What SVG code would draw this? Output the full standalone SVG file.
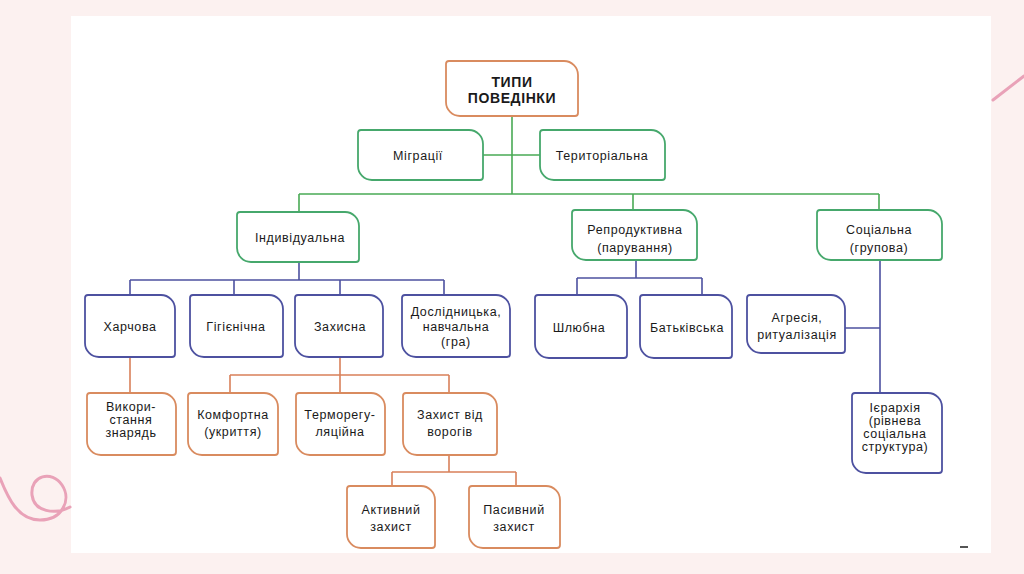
<svg xmlns="http://www.w3.org/2000/svg" width="1024" height="574" viewBox="0 0 1024 574">
<style>
.bg{fill:#fcf1f0}
.panel{fill:#ffffff}
.deco{fill:none;stroke:#e9a2b8;stroke-width:3;stroke-linecap:round}
.box{fill:#ffffff;stroke-width:1.8}
.o{stroke:#d98b5f}
.g{stroke:#46a86c}
.b{stroke:#4d51a0}
.lg{fill:none;stroke:#4aaa55;stroke-width:1.6}
.lb{fill:none;stroke:#4d51a0;stroke-width:1.6}
.lo{fill:none;stroke:#d9805a;stroke-width:1.6}
text{font-family:"Liberation Sans",Arial,sans-serif;font-size:12.5px;letter-spacing:0.6px;fill:#1a1a1a;text-anchor:middle}
.t{font-size:14px;font-weight:bold;letter-spacing:0.6px}
</style>
<rect class="bg" x="0" y="0" width="1024" height="574"/>
<rect class="panel" x="71" y="16" width="920" height="537"/>
<path class="deco" d="M0,478 C8,498 18,520 40,520 C62,520 72,500 62,485 C52,470 30,475 32,495 C34,512 55,515 70,507"/>
<path class="deco" d="M993,100 L1024,76"/>
<path d="M960,547 H968" stroke="#555" stroke-width="2"/>

<g id="connectors">
<path class="lg" d="M512,116 V194 M483,155 H540 M299,194 H879 M299,194 V212 M633,194 V210 M879,194 V210"/>
<path class="lb" d="M299,262 V280 M130,280 H444 M130,280 V295 M234,280 V295 M340,280 V295 M444,280 V295"/>
<path class="lb" d="M636,260 V278 M577,278 H702 M577,278 V295 M702,278 V295"/>
<path class="lb" d="M880,260 V393 M845,328 H880"/>
<path class="lo" d="M130,357 V393 M340,357 V393 M230,375 H449 M230,375 V393 M449,375 V393"/>
<path class="lo" d="M449,455 V472 M392,472 H516 M392,472 V486 M516,472 V486"/>
</g>

<g id="n-root"><path class="box o" d="M449,61 H564 A14,14 0 0 1 578,75 V113 A3,3 0 0 1 575,116 H460 A14,14 0 0 1 446,102 V64 A3,3 0 0 1 449,61 Z"/><text class="t" x="512" y="87">ТИПИ</text><text class="t" x="512" y="103">ПОВЕДІНКИ</text></g>

<g id="n-migr"><path class="box g" d="M361,130 H469 A14,14 0 0 1 483,144 V177 A3,3 0 0 1 480,180 H372 A14,14 0 0 1 358,166 V133 A3,3 0 0 1 361,130 Z"/><text x="418" y="160">Міграції</text></g>

<g id="n-terr"><path class="box g" d="M543,130 H651 A14,14 0 0 1 665,144 V177 A3,3 0 0 1 662,180 H554 A14,14 0 0 1 540,166 V133 A3,3 0 0 1 543,130 Z"/><text x="602" y="160">Територіальна</text></g>

<g id="n-indiv"><path class="box g" d="M240,212 H345 A14,14 0 0 1 359,226 V259 A3,3 0 0 1 356,262 H251 A14,14 0 0 1 237,248 V215 A3,3 0 0 1 240,212 Z"/><text x="300" y="242">Індивідуальна</text></g>

<g id="n-repro"><path class="box g" d="M575,210 H683 A14,14 0 0 1 697,224 V257 A3,3 0 0 1 694,260 H586 A14,14 0 0 1 572,246 V213 A3,3 0 0 1 575,210 Z"/><text x="635" y="234">Репродуктивна</text><text x="635" y="252">(парування)</text></g>

<g id="n-soc"><path class="box g" d="M820,210 H928 A14,14 0 0 1 942,224 V257 A3,3 0 0 1 939,260 H831 A14,14 0 0 1 817,246 V213 A3,3 0 0 1 820,210 Z"/><text x="879" y="234">Соціальна</text><text x="879" y="252">(групова)</text></g>

<g id="n-food"><path class="box b" d="M88,295 H161 A14,14 0 0 1 175,309 V354 A3,3 0 0 1 172,357 H99 A14,14 0 0 1 85,343 V298 A3,3 0 0 1 88,295 Z"/><text x="130" y="331">Харчова</text></g>

<g id="n-hyg"><path class="box b" d="M193,295 H269 A14,14 0 0 1 283,309 V354 A3,3 0 0 1 280,357 H204 A14,14 0 0 1 190,343 V298 A3,3 0 0 1 193,295 Z"/><text x="236" y="331">Гігієнічна</text></g>

<g id="n-def"><path class="box b" d="M298,295 H369 A14,14 0 0 1 383,309 V354 A3,3 0 0 1 380,357 H309 A14,14 0 0 1 295,343 V298 A3,3 0 0 1 298,295 Z"/><text x="340" y="331">Захисна</text></g>

<g id="n-expl"><path class="box b" d="M405,295 H496 A14,14 0 0 1 510,309 V354 A3,3 0 0 1 507,357 H416 A14,14 0 0 1 402,343 V298 A3,3 0 0 1 405,295 Z"/><text x="456" y="316">Дослідницька,</text><text x="456" y="331">навчальна</text><text x="456" y="346">(гра)</text></g>

<g id="n-mar"><path class="box b" d="M538,295 H613 A14,14 0 0 1 627,309 V355 A3,3 0 0 1 624,358 H549 A14,14 0 0 1 535,344 V298 A3,3 0 0 1 538,295 Z"/><text x="579" y="332">Шлюбна</text></g>

<g id="n-par"><path class="box b" d="M643,295 H718 A14,14 0 0 1 732,309 V355 A3,3 0 0 1 729,358 H654 A14,14 0 0 1 640,344 V298 A3,3 0 0 1 643,295 Z"/><text x="687" y="332">Батьківська</text></g>

<g id="n-aggr"><path class="box b" d="M750,295 H831 A14,14 0 0 1 845,309 V350 A3,3 0 0 1 842,353 H761 A14,14 0 0 1 747,339 V298 A3,3 0 0 1 750,295 Z"/><text x="797" y="322">Агресія,</text><text x="797" y="339">ритуалізація</text></g>

<g id="n-hier"><path class="box b" d="M855,393 H928 A14,14 0 0 1 942,407 V470 A3,3 0 0 1 939,473 H866 A14,14 0 0 1 852,459 V396 A3,3 0 0 1 855,393 Z"/><text x="895" y="412">Ієрархія</text><text x="895" y="425">(рівнева</text><text x="895" y="438">соціальна</text><text x="895" y="451">структура)</text></g>

<g id="n-tools"><path class="box o" d="M90,393 H162 A14,14 0 0 1 176,407 V452 A3,3 0 0 1 173,455 H101 A14,14 0 0 1 87,441 V396 A3,3 0 0 1 90,393 Z"/><text x="131" y="411">Викори-</text><text x="131" y="424">стання</text><text x="131" y="437">знарядь</text></g>

<g id="n-comf"><path class="box o" d="M191,393 H264 A14,14 0 0 1 278,407 V452 A3,3 0 0 1 275,455 H202 A14,14 0 0 1 188,441 V396 A3,3 0 0 1 191,393 Z"/><text x="233" y="419">Комфортна</text><text x="233" y="436">(укриття)</text></g>

<g id="n-therm"><path class="box o" d="M299,393 H371 A14,14 0 0 1 385,407 V452 A3,3 0 0 1 382,455 H310 A14,14 0 0 1 296,441 V396 A3,3 0 0 1 299,393 Z"/><text x="340" y="419">Терморегу-</text><text x="340" y="436">ляційна</text></g>

<g id="n-enemy"><path class="box o" d="M406,393 H483 A14,14 0 0 1 497,407 V452 A3,3 0 0 1 494,455 H417 A14,14 0 0 1 403,441 V396 A3,3 0 0 1 406,393 Z"/><text x="450" y="419">Захист від</text><text x="450" y="436">ворогів</text></g>

<g id="n-active"><path class="box o" d="M350,486 H421 A14,14 0 0 1 435,500 V545 A3,3 0 0 1 432,548 H361 A14,14 0 0 1 347,534 V489 A3,3 0 0 1 350,486 Z"/><text x="391" y="514">Активний</text><text x="391" y="531">захист</text></g>

<g id="n-passive"><path class="box o" d="M472,486 H546 A14,14 0 0 1 560,500 V545 A3,3 0 0 1 557,548 H483 A14,14 0 0 1 469,534 V489 A3,3 0 0 1 472,486 Z"/><text x="514" y="514">Пасивний</text><text x="514" y="531">захист</text></g>
</svg>
